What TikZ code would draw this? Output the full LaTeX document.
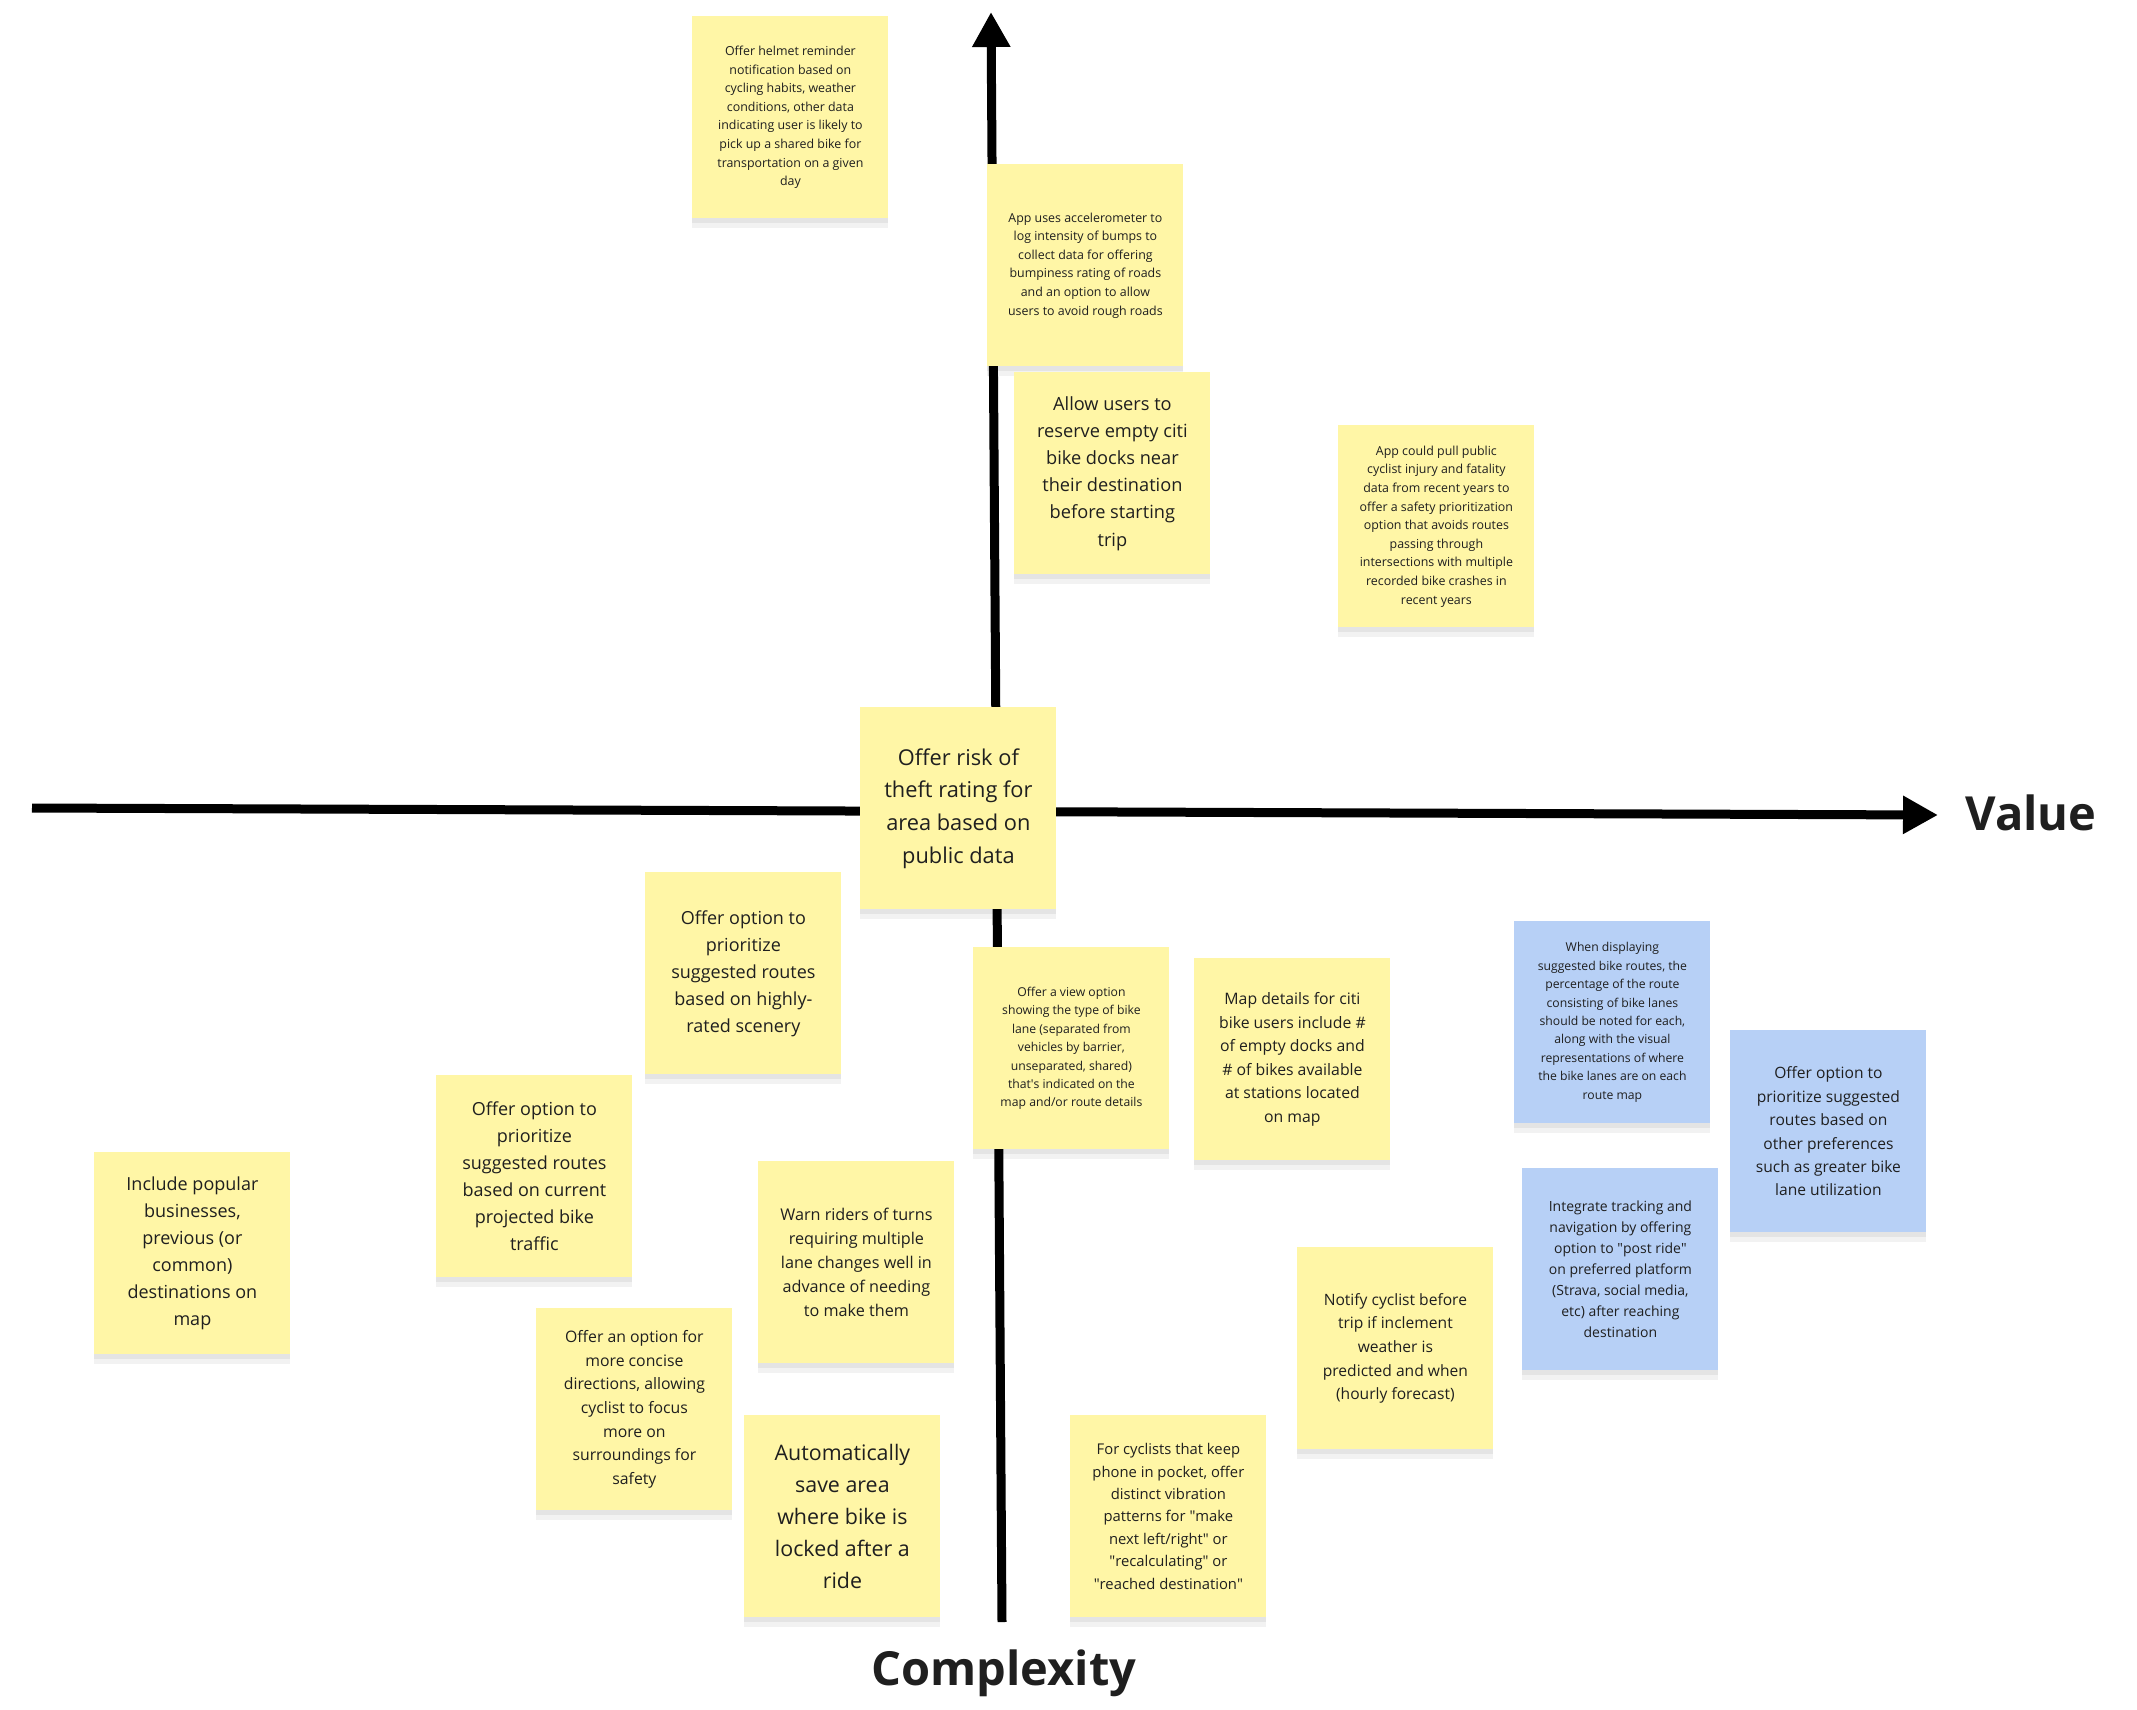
\documentclass[tikz,border=0pt]{standalone}
\usepackage{fontspec}
\setmainfont{Open Sans}
\usepackage{xcolor}
\usetikzlibrary{arrows.meta,shadows}
\definecolor{stickyY}{HTML}{FFF6A6}
\definecolor{stickyB}{HTML}{B7D0F6}
\definecolor{ink}{HTML}{1F1F1F}
\newcommand{\qq}{\textquotedbl{}}
\tikzset{
  sticky/.style={anchor=north west, fill=stickyY, text=ink, align=center, inner sep=4pt, minimum width=98pt, minimum height=101pt,
    general shadow={opacity=0.05, fill=black, shadow xshift=0pt, shadow yshift=-5pt},
    general shadow={opacity=0.06, fill=black, shadow xshift=0pt, shadow yshift=-2.5pt}},
  bluesticky/.style={sticky, fill=stickyB},
  txt/.style 2 args={font=\fontsize{#1pt}{#2pt}\selectfont},
  axis/.style={-{Triangle[length=17.5pt, width=18pt]}, line width=4.5pt, black},
  axlabel/.style={font=\fontsize{23.5pt}{28pt}\selectfont\bfseries, text=ink, inner sep=0pt}
}
\begin{document}
\begin{tikzpicture}[x=0.5pt, y=-0.5pt]
\useasboundingbox (0,0) rectangle (2137,1709);
\coordinate (h0) at (32,808);
\coordinate (h1) at (1938,815);
\coordinate (v0) at (1002,1622);
\coordinate (v1) at (991,12);
\draw[axis] (h0) -- (h1);
\draw[axis] (v0) -- (v1);
\node[axlabel, anchor=base west] (vlab) at (1965,830) {Value};
\node[axlabel, anchor=base] (clab) at (1004,1685) {Complexity};

\node[sticky, txt={6.2}{9.3}] (s1) at (692,16) {Offer helmet reminder\\notification based on\\cycling habits, weather\\conditions, other data\\indicating user is likely to\\pick up a shared bike for\\transportation on a given\\day};
\node[sticky, txt={6.2}{9.3}] (s2) at (987,164) {App uses accelerometer to\\log intensity of bumps to\\collect data for offering\\bumpiness rating of roads\\and an option to allow\\users to avoid rough roads};
\node[sticky, txt={9.1}{13.6}] (s3) at (1014,372) {Allow users to\\reserve empty citi\\bike docks near\\their destination\\before starting\\trip};
\node[sticky, txt={6.2}{9.3}] (s4) at (1338,425) {App could pull public\\cyclist injury and fatality\\data from recent years to\\offer a safety prioritization\\option that avoids routes\\passing through\\intersections with multiple\\recorded bike crashes in\\recent years};
\node[sticky, txt={10.9}{16.3}] (s5) at (860,707) {Offer risk of\\theft rating for\\area based on\\public data};
\node[sticky, txt={9}{13.5}] (s6) at (645,872) {Offer option to\\prioritize\\suggested routes\\based on highly-\\rated scenery};
\node[sticky, txt={6.1}{9.2}] (s7) at (973,947) {Offer a view option\\showing the type of bike\\lane (separated from\\vehicles by barrier,\\unseparated, shared)\\that\textquotesingle s indicated on the\\map and/or route details};
\node[sticky, txt={7.9}{11.8}] (s8) at (1194,958) {Map details for citi\\bike users include \#\\of empty docks and\\\# of bikes available\\at stations located\\on map};
\node[bluesticky, txt={6.1}{9.2}] (s9) at (1514,921) {When displaying\\suggested bike routes, the\\percentage of the route\\consisting of bike lanes\\should be noted for each,\\along with the visual\\representations of where\\the bike lanes are on each\\route map};
\node[bluesticky, txt={7.8}{11.7}] (s10) at (1730,1030) {Offer option to\\prioritize suggested\\routes based on\\other preferences\\such as greater bike\\lane utilization};
\node[bluesticky, txt={7}{10.5}] (s11) at (1522,1168) {Integrate tracking and\\navigation by offering\\option to \qq post ride\qq\\on preferred platform\\(Strava, social media,\\etc) after reaching\\destination};
\node[sticky, txt={9}{13.5}] (s12) at (94,1152) {Include popular\\businesses,\\previous (or\\common)\\destinations on\\map};
\node[sticky, txt={9}{13.5}] (s13) at (436,1075) {Offer option to\\prioritize\\suggested routes\\based on current\\projected bike\\traffic};
\node[sticky, txt={8.1}{12.1}] (s14) at (758,1161) {Warn riders of turns\\requiring multiple\\lane changes well in\\advance of needing\\to make them};
\node[sticky, txt={7.9}{11.8}] (s15) at (536,1308) {Offer an option for\\more concise\\directions, allowing\\cyclist to focus\\more on\\surroundings for\\safety};
\node[sticky, txt={10.7}{16}] (s16) at (744,1415) {Automatically\\save area\\where bike is\\locked after a\\ride};
\node[sticky, txt={7.4}{11.2}] (s17) at (1070,1415) {For cyclists that keep\\phone in pocket, offer\\distinct vibration\\patterns for \qq make\\next left/right\qq\ or\\\qq recalculating\qq\ or\\\qq reached destination\qq};
\node[sticky, txt={7.8}{11.8}] (s18) at (1297,1247) {Notify cyclist before\\trip if inclement\\weather is\\predicted and when\\(hourly forecast)};
\end{tikzpicture}
\end{document}
